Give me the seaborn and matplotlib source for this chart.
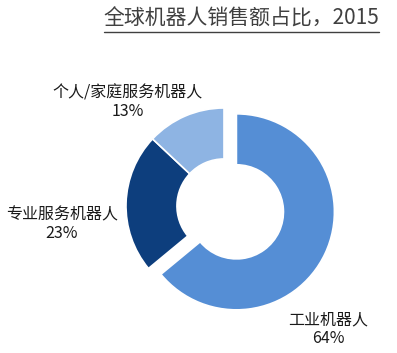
import matplotlib
matplotlib.use("Agg")
import matplotlib.pyplot as plt
import seaborn as sns
from matplotlib.lines import Line2D

categories = ["工业机器人", "专业服务机器人", "个人/家庭服务机器人"]
values = [64, 23, 13]
colors = ["#558ED5", "#0D3E7D", "#8EB4E3"]
title = "全球机器人销售额占比，2015"

sns.set_theme(style="white")
plt.rcParams['font.family'] = ['Noto Sans CJK SC', 'DejaVu Sans']

W, H = 397, 353
fig = plt.figure(figsize=(W / 100, H / 100), dpi=100)
ax = fig.add_axes([0, 0, 1, 1])

R_PX = 98.0
CX, CY = 224.0, 206.0

wedges, _ = ax.pie(values, startangle=90, counterclock=False, colors=colors,
                   explode=[0.14, 0, 0], radius=1.0,
                   wedgeprops=dict(width=0.52, edgecolor="white", linewidth=1.2))
ax.set_xlim(-CX / R_PX, (W - CX) / R_PX)
ax.set_ylim(-(H - CY) / R_PX, CY / R_PX)
ax.set_aspect("equal")
ax.axis("off")

label_pos = [(328, 329), (62, 224), (128, 102)]
for cat, v, (px, py) in zip(categories, values, label_pos):
    fig.text(px / W, 1 - py / H, f"{cat}\n{v}%", ha="center", va="center",
             fontsize=11.5, color="#1a1a1a", linespacing=1.15, fontweight="light")

t = fig.text(241.5 / W, 1 - 19 / H, title, ha="center", va="center",
             fontsize=15, color="#404040", fontweight="light")
fig.canvas.draw()
bb = t.get_window_extent()
fig.add_artist(Line2D([bb.x0 / W, bb.x1 / W], [1 - 32 / H, 1 - 32 / H],
                      transform=fig.transFigure, color="#404040", lw=1.0))

fig.savefig("out.png", dpi=100)
